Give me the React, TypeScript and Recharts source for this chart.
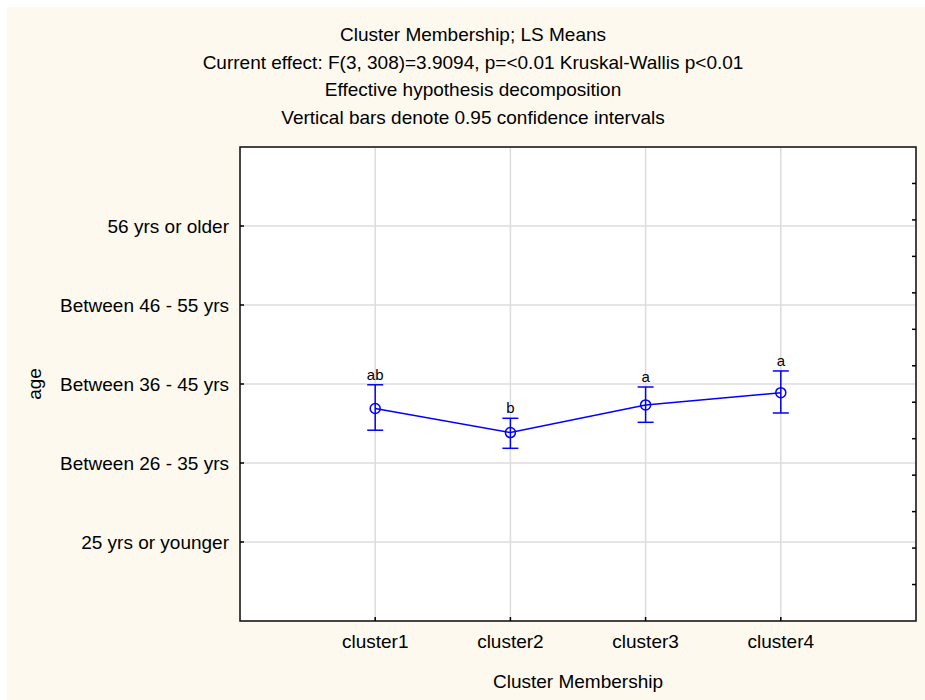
import React from "react";
import {
  CartesianGrid,
  ComposedChart,
  ErrorBar,
  LabelList,
  Line,
  ReferenceArea,
  XAxis,
  YAxis,
} from "recharts";

const clusters = ["cluster1", "cluster2", "cluster3", "cluster4"];
const clusterPositions = [1, 2, 3, 4];
const ageLevels = [
  "25 yrs or younger",
  "Between 26 - 35 yrs",
  "Between 36 - 45 yrs",
  "Between 46 - 55 yrs",
  "56 yrs or older",
];
const ageTicks = [1, 2, 3, 4, 5];
const rightTicks = [1, 2, 3, 4, 5, 6, 7, 8, 9, 10, 11, 12];
const means = [2.69, 2.385, 2.735, 2.89];
const lowerCI = [2.415, 2.186, 2.515, 2.633];
const upperCI = [2.99, 2.566, 2.962, 3.165];
const groupLetters = ["ab", "b", "a", "a"];

const titleLines = [
  "Cluster Membership; LS Means",
  "Current effect: F(3, 308)=3.9094, p=<0.01 Kruskal-Wallis p<0.01",
  "Effective hypothesis decomposition",
  "Vertical bars denote 0.95 confidence intervals",
];

const FONT = '"Liberation Sans", Arial, sans-serif';
const BLUE = "#0000ff";
const TICK_LEN = 4;
const Y_LABEL_GAP = 11;
const X_LABEL_GAP = 13;

const chartData = clusters.map((name, i) => ({
  name,
  x: clusterPositions[i],
  mean: means[i],
  upper: upperCI[i],
  group: groupLetters[i],
  err: [means[i] - lowerCI[i], upperCI[i] - means[i]],
}));

function LeftTick(props: any) {
  const { x, y, payload } = props;
  const label = ageLevels[ageTicks.indexOf(payload.value)] ?? "";
  return (
    <g>
      <text x={x} y={y} dy="0.35em" textAnchor="end" fontSize={19} fontFamily={FONT} fill="#000">
        {label}
      </text>
      <line x1={x + Y_LABEL_GAP} x2={x + Y_LABEL_GAP + TICK_LEN} y1={y} y2={y} stroke="#000" strokeWidth={1.5} />
    </g>
  );
}

function RightTick(props: any) {
  const { x, y } = props;
  return <line x1={x - TICK_LEN} x2={x} y1={y} y2={y} stroke="#000" strokeWidth={1.5} />;
}

function BottomTick(props: any) {
  const { x, y, payload } = props;
  const label = clusters[clusterPositions.indexOf(payload.value)] ?? "";
  return (
    <g>
      <line x1={x} x2={x} y1={y - X_LABEL_GAP} y2={y - X_LABEL_GAP - TICK_LEN} stroke="#000" strokeWidth={1.5} />
      <text x={x} y={y} dy="0.75em" textAnchor="middle" fontSize={19} fontFamily={FONT} fill="#000">
        {label}
      </text>
    </g>
  );
}

function AgeLabel(props: any) {
  const { viewBox } = props;
  const cx = viewBox.x + 34;
  const cy = viewBox.y + viewBox.height / 2;
  return (
    <text
      x={cx}
      y={cy}
      transform={`rotate(-90 ${cx} ${cy})`}
      textAnchor="middle"
      dy="0.35em"
      fontSize={19}
      fontFamily={FONT}
      fill="#000"
    >
      age
    </text>
  );
}

export default function App() {
  return (
    <div style={{ position: "absolute", left: 0, top: 0, width: 925, height: 700, background: "#fff" }}>
      <div style={{ position: "absolute", left: 7, top: 7, width: 918, height: 693, background: "#fdf9ef" }} />
      <div
        style={{
          position: "absolute",
          left: 0,
          top: 21,
          width: 946,
          textAlign: "center",
          fontFamily: FONT,
          fontSize: 19,
          lineHeight: "27.7px",
          color: "#000",
        }}
      >
        {titleLines.map((t) => (
          <div key={t}>{t}</div>
        ))}
      </div>
      <div style={{ position: "absolute", left: 0, top: 0 }}>
        <ComposedChart
          width={925}
          height={700}
          data={chartData}
          margin={{ top: 147, right: 0, bottom: 0, left: 0 }}
        >
          <CartesianGrid
            xAxisId="bottom"
            yAxisId="left"
            stroke="#dcdcdc"
            strokeWidth={1.5}
            fill="#ffffff"
            fillOpacity={1}
          />
          <XAxis
            xAxisId="bottom"
            dataKey="x"
            type="number"
            domain={[0, 5]}
            ticks={clusterPositions}
            height={79}
            axisLine={false}
            tickLine={false}
            tickSize={0}
            tickMargin={X_LABEL_GAP}
            tick={<BottomTick />}
            label={{
              value: "Cluster Membership",
              position: "insideBottom",
              offset: 12,
              fontSize: 19,
              fontFamily: FONT,
              fill: "#000",
            }}
          />
          <YAxis
            yAxisId="left"
            type="number"
            domain={[0, 6]}
            ticks={ageTicks}
            width={240}
            axisLine={false}
            tickLine={false}
            tickSize={0}
            tickMargin={Y_LABEL_GAP}
            tick={<LeftTick />}
            label={<AgeLabel />}
          />
          <YAxis
            yAxisId="right"
            orientation="right"
            type="number"
            domain={[0, 13]}
            allowDataOverflow
            ticks={rightTicks}
            width={9}
            axisLine={false}
            tickLine={false}
            tickSize={0}
            tickMargin={0}
            tick={<RightTick />}
          />
          <ReferenceArea
            xAxisId="bottom"
            yAxisId="left"
            x1={0}
            x2={5}
            y1={0}
            y2={6}
            fill="none"
            stroke="#111"
            strokeWidth={1.5}
          />
          <Line
            xAxisId="bottom"
            yAxisId="left"
            dataKey="upper"
            stroke="none"
            strokeOpacity={0}
            dot={false}
            activeDot={false}
            isAnimationActive={false}
          >
            <LabelList dataKey="group" position="top" offset={5} fontSize={15} fontFamily={FONT} fill="#000" />
          </Line>
          <Line
            xAxisId="bottom"
            yAxisId="left"
            dataKey="mean"
            stroke={BLUE}
            strokeWidth={1.5}
            dot={{ r: 5, fill: "none", stroke: BLUE, strokeWidth: 1.5 }}
            activeDot={false}
            isAnimationActive={false}
          >
            <ErrorBar dataKey="err" direction="y" width={8} stroke={BLUE} strokeWidth={1.5} isAnimationActive={false} />
          </Line>
        </ComposedChart>
      </div>
    </div>
  );
}
